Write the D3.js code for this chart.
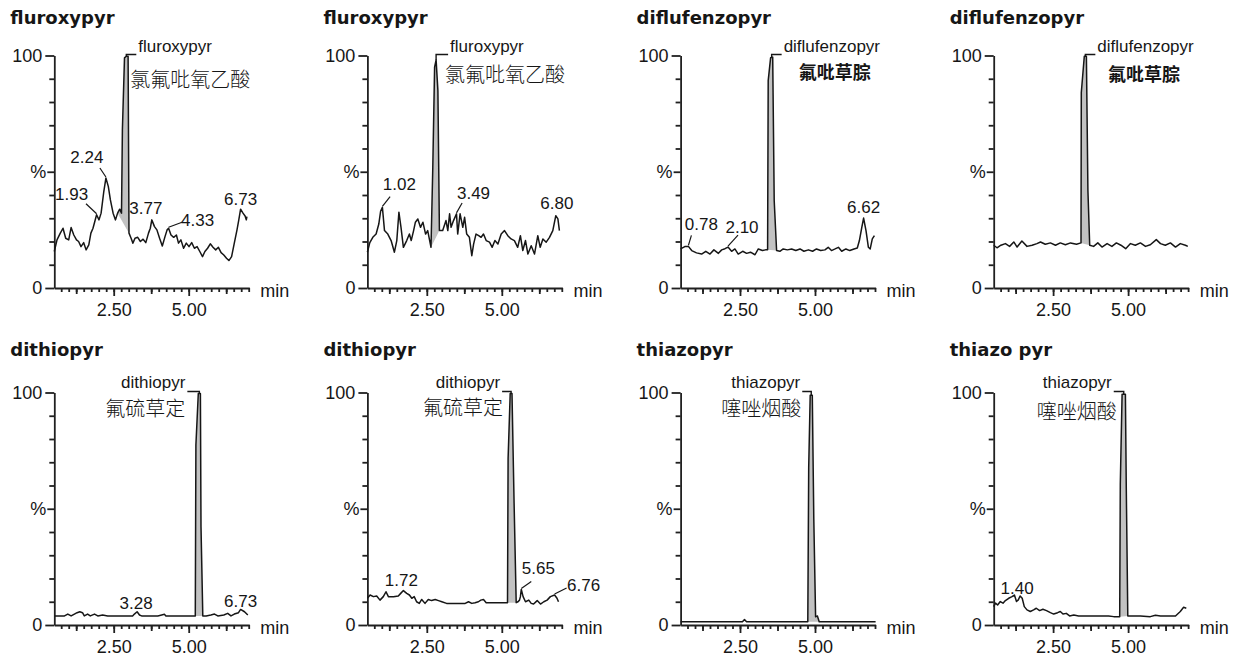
<!DOCTYPE html>
<html><head><meta charset="utf-8">
<script src="https://cdn.jsdelivr.net/npm/d3@7"></script>
<style>
body{margin:0;background:#fff;}
svg{display:block;}
</style></head><body>
<svg id="chart" width="1237" height="661"></svg>
<script>
// ---------------- DATA ----------------
const titles = ["fluroxypyr","fluroxypyr","diflufenzopyr","diflufenzopyr","dithiopyr","dithiopyr","thiazopyr","thiazo pyr"];
const peakNames = ["fluroxypyr","fluroxypyr","diflufenzopyr","diflufenzopyr","dithiopyr","dithiopyr","thiazopyr","thiazopyr"];
const cnNames = ["氯氟吡氧乙酸","氯氟吡氧乙酸","氟吡草腙","氟吡草腙","氟硫草定","氟硫草定","噻唑烟酸","噻唑烟酸"];

// traces: [retention time (min), relative intensity (%)]
const trace1 = [[0.52,15.7],[0.61,20.7],[0.72,23.6],[0.81,25.7],[0.90,21.4],[1.00,20.7],[1.08,26.0],[1.17,22.8],[1.26,20.7],[1.33,20.0],[1.41,17.8],[1.50,19.5],[1.58,16.4],[1.67,18.5],[1.74,23.6],[1.81,25.7],[1.87,28.6],[1.93,31.5],[2.01,29.3],[2.08,32.2],[2.17,41.5],[2.24,47.3],[2.32,43.7],[2.39,37.9],[2.48,32.2],[2.56,29.3],[2.63,32.2],[2.70,33.9],[2.76,32.2],[2.79,68.1],[2.86,99.0],[2.92,99.7],[2.98,99.7],[3.01,23.6],[3.08,21.4],[3.14,19.3],[3.21,21.4],[3.30,21.8],[3.39,20.0],[3.48,21.0],[3.57,19.5],[3.66,23.6],[3.72,25.7],[3.77,29.3],[3.86,26.4],[3.94,25.0],[4.03,21.4],[4.12,18.1],[4.21,22.1],[4.28,25.0],[4.33,25.7],[4.41,22.8],[4.50,21.8],[4.59,22.8],[4.66,19.3],[4.74,20.7],[4.83,17.1],[4.92,19.3],[5.01,17.8],[5.10,19.5],[5.19,17.1],[5.28,17.8],[5.37,15.7],[5.46,13.5],[5.54,15.7],[5.63,17.1],[5.72,19.0],[5.81,17.5],[5.90,16.4],[5.99,17.5],[6.08,15.2],[6.17,14.2],[6.26,12.8],[6.34,11.8],[6.43,13.5],[6.52,19.3],[6.61,25.0],[6.67,29.3],[6.73,33.9],[6.81,32.2],[6.88,31.0],[6.92,29.3],[6.94,30.7]];
const trace2 = [[0.52,15.4],[0.60,19.5],[0.70,21.8],[0.81,23.2],[0.90,27.5],[0.96,33.0],[1.02,34.7],[1.09,24.7],[1.20,23.2],[1.31,20.4],[1.42,15.4],[1.50,20.4],[1.57,32.6],[1.64,26.1],[1.72,17.5],[1.83,20.4],[1.92,23.2],[1.98,20.4],[2.06,24.7],[2.12,28.3],[2.20,29.7],[2.29,26.1],[2.37,28.3],[2.46,23.2],[2.53,24.7],[2.64,17.5],[2.70,51.9],[2.76,95.0],[2.81,98.1],[2.87,84.9],[2.92,24.7],[3.03,24.7],[3.14,29.0],[3.20,24.7],[3.26,31.9],[3.31,26.1],[3.39,29.0],[3.49,31.9],[3.53,23.2],[3.61,31.9],[3.70,26.1],[3.76,30.4],[3.83,23.2],[3.92,21.8],[4.00,13.9],[4.06,18.9],[4.14,23.2],[4.23,22.5],[4.31,21.8],[4.39,23.2],[4.48,20.4],[4.59,19.7],[4.68,17.5],[4.77,20.4],[4.87,18.9],[4.98,23.2],[5.09,24.7],[5.20,22.5],[5.31,21.1],[5.42,20.4],[5.53,17.5],[5.62,22.5],[5.70,16.1],[5.79,20.4],[5.87,14.6],[5.98,18.2],[6.09,14.6],[6.20,22.5],[6.28,17.5],[6.37,21.1],[6.48,19.7],[6.59,21.8],[6.70,24.7],[6.80,31.1],[6.87,29.7],[6.92,24.7]];
const trace3 = [[0.52,16.8],[0.66,17.8],[0.78,17.9],[0.89,16.1],[1.05,15.1],[1.22,14.6],[1.36,15.8],[1.50,14.6],[1.63,16.4],[1.78,14.9],[1.89,16.4],[2.00,16.9],[2.10,17.6],[2.22,15.8],[2.33,16.8],[2.44,14.6],[2.59,15.8],[2.72,14.9],[2.85,15.4],[3.00,14.3],[3.11,16.8],[3.25,16.1],[3.35,16.4],[3.42,16.4],[3.44,89.2],[3.52,99.0],[3.59,99.3],[3.64,37.6],[3.72,16.1],[3.83,15.8],[3.94,16.8],[4.08,16.4],[4.22,16.8],[4.36,16.1],[4.50,16.8],[4.63,15.8],[4.78,16.4],[4.92,15.8],[5.05,16.8],[5.19,16.1],[5.33,16.4],[5.44,17.5],[5.55,16.1],[5.67,16.8],[5.78,17.5],[5.89,15.8],[6.03,16.8],[6.16,16.1],[6.30,16.8],[6.41,17.2],[6.48,20.4],[6.56,26.1],[6.62,30.1],[6.70,24.7],[6.78,17.5],[6.84,16.8],[6.91,21.1],[6.98,22.5]];
const trace4 = [[0.52,18.4],[0.63,17.3],[0.76,18.4],[0.91,19.1],[1.05,17.9],[1.19,19.8],[1.30,17.6],[1.46,20.2],[1.63,17.9],[1.80,18.4],[1.96,19.1],[2.08,19.8],[2.24,18.8],[2.41,19.4],[2.58,18.4],[2.74,19.4],[2.91,18.6],[3.08,19.4],[3.28,18.8],[3.43,19.4],[3.44,84.1],[3.54,99.7],[3.61,99.7],[3.66,42.2],[3.72,18.4],[3.85,17.9],[3.99,19.4],[4.13,17.6],[4.30,19.1],[4.46,17.9],[4.61,19.4],[4.76,18.4],[4.92,16.9],[5.08,19.1],[5.24,18.4],[5.41,19.4],[5.58,17.9],[5.74,18.6],[5.94,20.8],[6.08,19.1],[6.24,18.4],[6.41,19.4],[6.58,17.6],[6.74,19.1],[6.91,18.4],[6.99,17.9]];
const trace5 = [[0.54,3.9],[0.86,3.9],[0.97,4.7],[1.08,3.9],[1.19,4.7],[1.28,5.3],[1.37,5.7],[1.46,5.3],[1.52,3.9],[1.63,4.7],[1.72,3.9],[1.86,4.7],[1.97,3.9],[2.13,4.3],[2.30,3.9],[2.74,3.9],[3.13,3.9],[3.19,4.7],[3.28,5.7],[3.36,4.3],[3.43,3.9],[3.97,3.9],[4.10,4.3],[4.19,4.6],[4.24,3.9],[5.22,3.9],[5.24,77.4],[5.32,99.6],[5.39,99.6],[5.41,42.3],[5.47,3.9],[5.58,3.9],[5.74,4.3],[5.86,4.7],[5.97,3.9],[6.17,4.3],[6.30,5.0],[6.41,3.9],[6.52,4.7],[6.66,5.3],[6.73,6.7],[6.86,5.7],[6.97,4.3]];
const trace6 = [[0.52,11.5],[0.61,12.9],[0.72,12.2],[0.83,12.5],[0.94,10.7],[1.05,12.2],[1.14,14.3],[1.22,12.2],[1.39,12.2],[1.55,12.5],[1.63,13.6],[1.72,14.8],[1.83,13.6],[1.92,12.9],[2.00,11.5],[2.08,12.2],[2.16,10.0],[2.25,9.3],[2.33,11.0],[2.44,9.3],[2.55,11.0],[2.66,10.5],[2.78,11.0],[2.89,10.5],[3.00,10.0],[3.16,9.3],[3.50,9.3],[3.78,9.3],[3.89,10.0],[4.00,9.3],[4.11,9.6],[4.22,10.0],[4.30,10.7],[4.39,11.0],[4.48,9.6],[5.19,9.6],[5.21,71.6],[5.28,99.6],[5.34,99.6],[5.41,52.3],[5.48,9.6],[5.54,10.0],[5.59,10.7],[5.62,12.2],[5.65,15.3],[5.71,12.2],[5.79,10.0],[5.90,10.7],[5.98,9.3],[6.06,9.0],[6.18,10.5],[6.29,9.0],[6.40,10.0],[6.51,10.7],[6.62,12.2],[6.76,12.9],[6.84,11.5],[6.89,10.0]];
const trace7 = [[0.52,1.4],[1.30,1.4],[1.85,1.4],[2.58,1.4],[2.65,2.3],[2.72,1.4],[3.52,1.4],[4.30,1.4],[4.76,1.4],[4.79,67.9],[4.84,98.8],[4.91,98.8],[4.96,45.6],[5.02,3.5],[5.08,3.9],[5.14,1.4],[5.74,1.4],[6.30,1.4],[7.02,1.4]];
const trace8 = [[0.52,7.9],[0.58,9.4],[0.65,8.6],[0.74,10.1],[0.83,9.4],[0.91,10.5],[1.02,11.5],[1.13,12.2],[1.21,12.9],[1.28,10.1],[1.34,10.8],[1.40,12.5],[1.47,11.5],[1.54,7.9],[1.63,6.5],[1.74,5.8],[1.85,6.5],[1.94,7.2],[2.05,6.2],[2.16,6.8],[2.28,6.2],[2.41,5.3],[2.52,4.7],[2.65,5.3],[2.74,5.8],[2.83,4.7],[2.94,5.0],[3.05,3.9],[3.19,4.3],[3.35,3.9],[3.85,3.9],[4.35,3.9],[4.52,3.6],[4.72,3.6],[4.74,60.4],[4.80,99.3],[4.91,99.3],[4.94,58.3],[4.99,3.9],[5.41,3.9],[5.74,3.6],[5.91,4.2],[6.08,3.9],[6.58,3.9],[6.74,5.8],[6.85,7.6],[6.94,7.2]];
const traces = [trace1, trace2, trace3, trace4, trace5, trace6, trace7, trace8];

// integrated peak windows [start, end] (min)
const peakWindows = [[2.63,3.01],[2.64,2.92],[3.42,3.72],[3.43,3.72],[5.22,5.47],[5.19,5.48],[4.76,5.14],[4.72,4.99]];

// retention-time annotations per panel
const rtLabels = [[1.93,2.24,3.77,4.33,6.73],[1.02,3.49,6.80],[0.78,2.10,6.62],[],[3.28,6.73],[1.72,5.65,6.76],[],[1.40]];

// axes
const xDomain = [0.52, 7.02];
const yDomain = [0, 100];
const xMinorTicks = d3.range(3, 29).map(k => k / 4);
const xMidTicks = [1.25, 3.75, 6.25];
const xMajorTicks = [2.5, 5.0];
const xTickLabels = ["2.50", "5.00"];
const yMinorTicks = [10, 20, 30, 40, 60, 70, 80, 90];
const yEndTicks = [0, 100];
const yEndLabels = ["0", "100"];
const yMidTicks = [50];
const yMidLabels = ["%"];
const xUnit = "min";

// ---------------- LAYOUT (pixels) ----------------
const layout = {
  colX: [54.3, 367.4, 680.6, 993.7],
  rowY0: [288, 625],
  titleY: [24, 356],
  titleDx: -44,
  plotW: 195,
  plotH: 232.5
};
// label text-centre offset from apex [dx, dy] and optional leader end [lx, ly]
const rtOffsets = [
  [[-25,-21,-10.6,-11],[-19,-21,-6,-10],[-6,-12],[29,-8,13.4,-6],[0,-10]],
  [[17,-23,7.7,-10.6],[17,-21,5.6,-10.8],[1,-13]],
  [[13,-22,3,-11],[14,-20,10,-12],[0,-11]],
  [],
  [[-1,-9],[0,-9]],
  [[-2,-11],[17,-22,10,-8],[29,-10,12,-7]],
  [],
  [[-3,-8]]
];
const nameLayout = [
  {side:"right", dx:12, dy:-4, cnAlign:"start", cnDx:4, cnDy:22.5, cnBold:false},
  {side:"right", dx:14, dy:-4, cnAlign:"start", cnDx:9, cnDy:17.5, cnBold:false},
  {side:"right", dx:12, dy:-4, cnAlign:"middle", cnDx:3, cnDy:15.5, cnBold:true},
  {side:"right", dx:12, dy:-4, cnAlign:"middle", cnDx:-1.5, cnDy:17, cnBold:true},
  {side:"left", dx:-14, dy:-4.5, cnAlign:"end", cnDx:-14, cnDy:14.5, cnBold:false},
  {side:"left", dx:-11, dy:-4.5, cnAlign:"end", cnDx:-8, cnDy:13.5, cnBold:false},
  {side:"left", dx:-11, dy:-4.5, cnAlign:"end", cnDx:-10, cnDy:14.5, cnBold:false},
  {side:"left", dx:-12, dy:-4.5, cnAlign:"end", cnDx:-7, cnDy:18, cnBold:false}
];

// ---------------- DRAW ----------------
const FONT = "'Liberation Sans', Arial, Helvetica, sans-serif";
const CJK = "'Noto Sans CJK SC', 'Noto Sans CJK TC', sans-serif";
const INK = "#161616";
const svg = d3.select("#chart");
svg.append("rect").attr("width", 1237).attr("height", 661).attr("fill", "#fff");

traces.forEach((tr, i) => {
  const col = i % 4, row = Math.floor(i / 4);
  const ax = layout.colX[col], y0 = layout.rowY0[row];
  const x = d3.scaleLinear().domain(xDomain).range([ax, ax + layout.plotW]);
  const y = d3.scaleLinear().domain(yDomain).range([y0, y0 - layout.plotH]);
  const g = svg.append("g");

  // title
  g.append("text").attr("x", ax + layout.titleDx).attr("y", layout.titleY[row])
    .attr("font-family", "'DejaVu Sans', Verdana, sans-serif").attr("font-weight", "bold")
    .attr("font-size", 18).attr("fill", INK).text(titles[i]);

  // axes
  const styleAxis = sel => {
    sel.selectAll("path,line").attr("stroke", "#202020").attr("stroke-width", 1.8);
    sel.selectAll("text").attr("font-family", FONT).attr("font-size", 18).attr("fill", INK);
  };
  const gx = g.append("g").attr("transform", `translate(0,${y0})`);
  gx.append("g").call(d3.axisBottom(x).tickValues(xMinorTicks).tickSize(4).tickSizeOuter(0).tickFormat("")).call(styleAxis);
  gx.append("g").call(d3.axisBottom(x).tickValues(xMidTicks).tickSize(6).tickSizeOuter(0).tickFormat("")).call(s => s.select(".domain").remove()).call(styleAxis);
  gx.append("g").call(d3.axisBottom(x).tickValues(xMajorTicks).tickSize(8).tickPadding(7).tickSizeOuter(0)
      .tickFormat((d, k) => xTickLabels[k])).call(s => s.select(".domain").remove()).call(styleAxis);
  g.append("text").attr("x", ax + layout.plotW + 11).attr("y", y0 + 9)
    .attr("font-family", FONT).attr("font-size", 18).attr("fill", INK).text(xUnit);

  const gy = g.append("g").attr("transform", `translate(${ax},0)`);
  gy.append("g").call(d3.axisLeft(y).tickValues(yMinorTicks).tickSize(5).tickSizeOuter(0).tickFormat("")).call(styleAxis);
  gy.append("g").call(d3.axisLeft(y).tickValues(yEndTicks).tickSize(9).tickPadding(3).tickSizeOuter(0)
      .tickFormat((d, k) => yEndLabels[k])).call(s => s.select(".domain").remove()).call(styleAxis);
  gy.append("g").call(d3.axisLeft(y).tickValues(yMidTicks).tickSize(7).tickPadding(1).tickSizeOuter(0)
      .tickFormat((d, k) => yMidLabels[k])).call(s => s.select(".domain").remove()).call(styleAxis);

  // integrated peak fill
  const [ps, pe] = peakWindows[i];
  const seg = tr.filter(d => d[0] >= ps - 1e-9 && d[0] <= pe + 1e-9);
  const line = d3.line().x(d => x(d[0])).y(d => y(d[1]));
  g.append("path").attr("d", line(seg) + "Z").attr("fill", "#c2c2c2").attr("stroke", "none");

  // trace
  g.append("path").datum(tr).attr("d", line).attr("fill", "none")
    .attr("stroke", INK).attr("stroke-width", 1.5).attr("stroke-linejoin", "round");

  // compound name labels
  const vmax = d3.max(seg, d => d[1]);
  const apexX = d3.mean(seg.filter(d => d[1] >= vmax * 0.97), d => x(d[0]));
  const yTop = y(100) - 1;
  const L = nameLayout[i];
  const nameText = g.append("text").attr("x", apexX + L.dx).attr("y", y(100) + L.dy)
    .attr("font-family", FONT).attr("font-size", 17).attr("fill", INK)
    .attr("text-anchor", L.side === "right" ? "start" : "end").text(peakNames[i]);
  const nW = nameText.node().getComputedTextLength();
  const leaderEnd = L.side === "right" ? apexX + L.dx - 2 : apexX + L.dx + 2;
  g.append("path").attr("d", `M${apexX},${y(vmax)}V${yTop}H${leaderEnd}`)
    .attr("fill", "none").attr("stroke", INK).attr("stroke-width", 1.4);
  let cnX;
  if (L.cnAlign === "middle") cnX = (L.side === "right" ? apexX + L.dx + nW / 2 : apexX + L.dx - nW / 2) + L.cnDx;
  else cnX = apexX + L.cnDx;
  g.append("text").attr("x", cnX).attr("y", y(100) + L.cnDy)
    .attr("dominant-baseline", "central").attr("text-anchor", L.cnAlign)
    .attr("font-family", CJK).attr("font-weight", L.cnBold ? "bold" : 300)
    .attr("font-size", L.cnBold ? 18 : 20).attr("fill", INK).text(cnNames[i]);

  // retention-time labels
  rtLabels[i].forEach((t, k) => {
    const pt = tr.reduce((a, b) => Math.abs(b[0] - t) < Math.abs(a[0] - t) ? b : a);
    const px = x(pt[0]), py = y(pt[1]);
    const o = rtOffsets[i][k];
    g.append("text").attr("x", px + o[0]).attr("y", py + o[1] + 6.1)
      .attr("text-anchor", "middle").attr("font-family", FONT).attr("font-size", 17)
      .attr("fill", INK).text(t.toFixed(2));
    if (o.length > 2) {
      g.append("line").attr("x1", px).attr("y1", py - 1).attr("x2", px + o[2]).attr("y2", py + o[3])
        .attr("stroke", INK).attr("stroke-width", 1.2);
    }
  });
});
</script>
</body></html>
